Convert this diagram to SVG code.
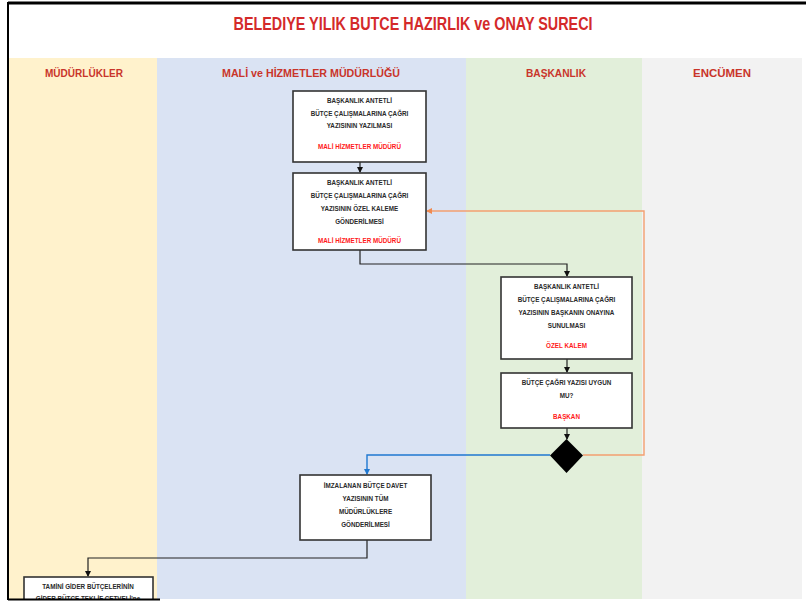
<svg xmlns="http://www.w3.org/2000/svg" width="807" height="609" viewBox="0 0 807 609">
<style>
.t{font-family:"Liberation Sans",Arial,sans-serif;font-weight:bold;text-anchor:middle}
.title{font-size:18px;fill:#d42a2a}
.hd{font-size:10px;fill:#c9352a}
.bx{fill:#fff;stroke:#333;stroke-width:1.6}
.tx{font-size:6.3px;fill:#2a2a2a}
.rd{font-size:6.3px;fill:#ff1a1a}
.ln{fill:none;stroke:#222;stroke-width:1.2}
</style>
<defs>
<marker id="ab" markerWidth="6" markerHeight="6" refX="5" refY="3" orient="auto" markerUnits="userSpaceOnUse"><path d="M0,0 L6,3 L0,6 z" fill="#111"/></marker>
<marker id="abl" markerWidth="6" markerHeight="6" refX="5" refY="3" orient="auto" markerUnits="userSpaceOnUse"><path d="M0,0 L6,3 L0,6 z" fill="#1f78d1"/></marker>
<marker id="ao" markerWidth="6" markerHeight="6" refX="5" refY="3" orient="auto" markerUnits="userSpaceOnUse"><path d="M0,0 L6,3 L0,6 z" fill="#f08a50"/></marker>
</defs>
<rect width="807" height="609" fill="#fff"/>
<g id="lanes">
<rect x="9" y="58" width="148" height="541" fill="#fff2cc"/>
<rect x="157" y="58" width="309" height="541" fill="#dae3f3"/>
<rect x="466" y="58" width="176" height="541" fill="#e2efda"/>
<rect x="642" y="58" width="160" height="541" fill="#f2f2f2"/>
<text class="t hd" x="84" y="77" textLength="78" lengthAdjust="spacingAndGlyphs">MÜDÜRLÜKLER</text>
<text class="t hd" x="311" y="77" textLength="178" lengthAdjust="spacingAndGlyphs">MALİ ve HİZMETLER MÜDÜRLÜĞÜ</text>
<text class="t hd" x="556" y="77" textLength="60" lengthAdjust="spacingAndGlyphs">BAŞKANLIK</text>
<text class="t hd" x="722" y="77" textLength="58" lengthAdjust="spacingAndGlyphs">ENCÜMEN</text>
</g>
<text class="t title" x="413" y="29.5" textLength="359" lengthAdjust="spacingAndGlyphs">BELEDIYE YILIK BUTCE HAZIRLIK ve ONAY SURECI</text>
<g id="connectors">
<path class="ln" d="M360,162 V172" marker-end="url(#ab)"/>
<path class="ln" d="M360,250 V264 H567 V276" marker-end="url(#ab)"/>
<path class="ln" d="M567,359 V372" marker-end="url(#ab)"/>
<path class="ln" d="M567,428 V439" marker-end="url(#ab)"/>
<path fill="none" stroke="#1f78d1" stroke-width="1.4" d="M550,455 H367 V474" marker-end="url(#abl)"/>
<path fill="none" stroke="#f4a070" stroke-width="1.4" d="M583,455 H644 V211 H427" marker-end="url(#ao)"/>
<path class="ln" d="M367,540 V558 H88 V576" marker-end="url(#ab)"/>
</g>
<g id="n1">
<rect class="bx" x="293" y="91" width="133" height="71"/>
<text class="t tx" x="359.5" y="103">BAŞKANLIK ANTETLİ</text>
<text class="t tx" x="359.5" y="115.5">BÜTÇE ÇALIŞMALARINA ÇAĞRI</text>
<text class="t tx" x="359.5" y="128">YAZISININ YAZILMASI</text>
<text class="t rd" x="359.5" y="149">MALİ HİZMETLER MÜDÜRÜ</text>
</g>
<g id="n2">
<rect class="bx" x="293" y="173" width="133" height="77"/>
<text class="t tx" x="359.5" y="185">BAŞKANLIK ANTETLİ</text>
<text class="t tx" x="359.5" y="198">BÜTÇE ÇALIŞMALARINA ÇAĞRI</text>
<text class="t tx" x="359.5" y="211">YAZISININ ÖZEL KALEME</text>
<text class="t tx" x="359.5" y="224">GÖNDERİLMESİ</text>
<text class="t rd" x="359.5" y="243">MALİ HİZMETLER MÜDÜRÜ</text>
</g>
<g id="n3">
<rect class="bx" x="501" y="277" width="131" height="82"/>
<text class="t tx" x="566.5" y="289">BAŞKANLIK ANTETLİ</text>
<text class="t tx" x="566.5" y="302">BÜTÇE ÇALIŞMALARINA ÇAĞRI</text>
<text class="t tx" x="566.5" y="315">YAZISININ BAŞKANIN ONAYINA</text>
<text class="t tx" x="566.5" y="328">SUNULMASI</text>
<text class="t rd" x="566.5" y="348">ÖZEL KALEM</text>
</g>
<g id="n4">
<rect class="bx" x="501" y="373" width="131" height="55"/>
<text class="t tx" x="566.5" y="385">BÜTÇE ÇAĞRI YAZISI UYGUN</text>
<text class="t tx" x="566.5" y="398">MU?</text>
<text class="t rd" x="566.5" y="419">BAŞKAN</text>
</g>
<g id="n5">
<path d="M566.5,439 L583,455.5 L566.5,473 L550,455.5 z" fill="#000"/>
</g>
<g id="n6">
<rect class="bx" x="300" y="475" width="131" height="65"/>
<text class="t tx" x="365.5" y="488">İMZALANAN BÜTÇE DAVET</text>
<text class="t tx" x="365.5" y="501">YAZISININ TÜM</text>
<text class="t tx" x="365.5" y="514">MÜDÜRLÜKLERE</text>
<text class="t tx" x="365.5" y="527">GÖNDERİLMESİ</text>
</g>
<g id="n7">
<rect class="bx" x="24" y="577" width="129" height="40"/>
<text class="t tx" x="88" y="589">TAMİNİ GİDER BÜTÇELERİNİN</text>
<text class="t tx" x="88" y="601">GİDER BÜTÇE TEKLİF CETVELİ'ne</text>
</g>
<rect x="0" y="599.5" width="807" height="10" fill="#fff"/>
<g id="frame" stroke="#000" fill="none">
<path d="M8,3 H806" stroke-width="3"/>
<path d="M8,2 V600" stroke-width="2"/>
<path d="M8,599.5 H160" stroke-width="2"/>
</g>
</svg>
